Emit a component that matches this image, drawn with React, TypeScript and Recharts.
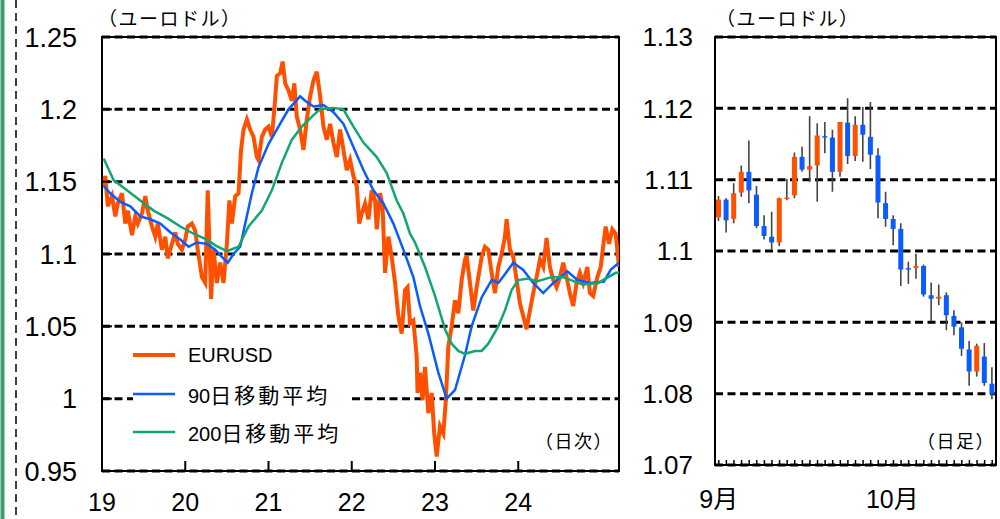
import {
  LineChart,
  Line,
  XAxis,
  YAxis,
  CartesianGrid,
  ReferenceArea,
  Legend,
  ComposedChart,
  Bar,
} from "recharts";

// ---- left panel: daily EURUSD with moving averages ----
// x = position on the year axis (19 = start of 2019), y = EUR/USD
const yearTicks = [19, 20, 21, 22, 23, 24];
const dailyTicks = [0.95, 1, 1.05, 1.1, 1.15, 1.2, 1.25];

const eurusd: [number, number][] = [
  [19.01, 1.147], [19.04, 1.154], [19.07, 1.133], [19.12, 1.14], [19.16, 1.126],
  [19.19, 1.135], [19.24, 1.142], [19.28, 1.121], [19.31, 1.13], [19.36, 1.113],
  [19.4, 1.126], [19.43, 1.121], [19.48, 1.128], [19.52, 1.14], [19.55, 1.13],
  [19.6, 1.119], [19.64, 1.112], [19.67, 1.121], [19.72, 1.103], [19.76, 1.112],
  [19.79, 1.097], [19.84, 1.107], [19.88, 1.115], [19.91, 1.107], [19.96, 1.103],
  [20.0, 1.11], [20.03, 1.119], [20.08, 1.121], [20.12, 1.116], [20.15, 1.103],
  [20.2, 1.084], [20.24, 1.08], [20.27, 1.144], [20.3, 1.09], [20.31, 1.069],
  [20.34, 1.103], [20.38, 1.08], [20.42, 1.094], [20.46, 1.08], [20.5, 1.107],
  [20.53, 1.137], [20.56, 1.121], [20.6, 1.14], [20.64, 1.142], [20.67, 1.172],
  [20.7, 1.186], [20.74, 1.193], [20.78, 1.186], [20.82, 1.181], [20.86, 1.167],
  [20.88, 1.165], [20.92, 1.181], [20.96, 1.186], [21.0, 1.188], [21.04, 1.181],
  [21.07, 1.2], [21.1, 1.223], [21.14, 1.225], [21.17, 1.233], [21.2, 1.218],
  [21.24, 1.213], [21.28, 1.206], [21.31, 1.218], [21.34, 1.195], [21.38, 1.186],
  [21.42, 1.172], [21.46, 1.193], [21.5, 1.209], [21.54, 1.22], [21.58, 1.226],
  [21.62, 1.209], [21.66, 1.188], [21.7, 1.179], [21.74, 1.19], [21.78, 1.177],
  [21.82, 1.167], [21.86, 1.186], [21.9, 1.172], [21.94, 1.158], [21.98, 1.165],
  [22.02, 1.154], [22.06, 1.147], [22.09, 1.121], [22.12, 1.128], [22.16, 1.135],
  [22.2, 1.124], [22.24, 1.144], [22.28, 1.137], [22.3, 1.117], [22.34, 1.142],
  [22.37, 1.133], [22.4, 1.087], [22.44, 1.112], [22.48, 1.098], [22.52, 1.08],
  [22.56, 1.057], [22.6, 1.045], [22.64, 1.075], [22.67, 1.077], [22.7, 1.052],
  [22.74, 1.054], [22.78, 1.029], [22.79, 1.004], [22.82, 1.018], [22.85, 0.999],
  [22.88, 1.022], [22.92, 0.99], [22.96, 1.004], [22.99, 0.976], [23.02, 0.96],
  [23.06, 0.981], [23.1, 0.976], [23.13, 0.999], [23.16, 1.036], [23.2, 1.05],
  [23.24, 1.068], [23.28, 1.059], [23.32, 1.082], [23.36, 1.096], [23.38, 1.099],
  [23.42, 1.08], [23.46, 1.061], [23.5, 1.077], [23.56, 1.098], [23.6, 1.105],
  [23.64, 1.103], [23.68, 1.087], [23.72, 1.073], [23.76, 1.091], [23.8, 1.1],
  [23.84, 1.112], [23.86, 1.124], [23.9, 1.103], [23.94, 1.098], [23.98, 1.082],
  [24.02, 1.066], [24.06, 1.057], [24.1, 1.048], [24.14, 1.061], [24.18, 1.073],
  [24.22, 1.084], [24.26, 1.096], [24.3, 1.091], [24.34, 1.111], [24.38, 1.091],
  [24.42, 1.082], [24.46, 1.077], [24.5, 1.084], [24.54, 1.094], [24.58, 1.084],
  [24.62, 1.073], [24.66, 1.064], [24.7, 1.08], [24.74, 1.087], [24.78, 1.08],
  [24.83, 1.091], [24.86, 1.073], [24.9, 1.071], [24.95, 1.084], [24.99, 1.091],
  [25.03, 1.11], [25.05, 1.119], [25.09, 1.107], [25.13, 1.117], [25.17, 1.114],
  [25.21, 1.091],
];

const ma90: [number, number][] = [
  [19.02, 1.147], [19.1, 1.142], [19.22, 1.136], [19.34, 1.133], [19.46, 1.126],
  [19.58, 1.124], [19.7, 1.121], [19.82, 1.115], [19.94, 1.11], [20.04, 1.105],
  [20.14, 1.108], [20.26, 1.107], [20.36, 1.103], [20.44, 1.098], [20.51, 1.094],
  [20.58, 1.1], [20.66, 1.105], [20.72, 1.121], [20.8, 1.142], [20.88, 1.16],
  [21.0, 1.176], [21.12, 1.188], [21.24, 1.2], [21.38, 1.209], [21.44, 1.206],
  [21.54, 1.202], [21.66, 1.203], [21.78, 1.198], [21.9, 1.19], [22.02, 1.174],
  [22.14, 1.158], [22.26, 1.144], [22.38, 1.135], [22.5, 1.121], [22.62, 1.103],
  [22.74, 1.084], [22.82, 1.064], [22.92, 1.045], [23.04, 1.018], [23.14, 1.0],
  [23.24, 1.006], [23.36, 1.03], [23.44, 1.05], [23.56, 1.07], [23.68, 1.082],
  [23.76, 1.08], [23.84, 1.086], [23.94, 1.094], [24.06, 1.089], [24.18, 1.08],
  [24.3, 1.073], [24.42, 1.08], [24.59, 1.088], [24.71, 1.082], [24.87, 1.08],
  [25.03, 1.081], [25.11, 1.089], [25.21, 1.094],
];

const ma200: [number, number][] = [
  [19.02, 1.166], [19.14, 1.151], [19.3, 1.144], [19.46, 1.137], [19.62, 1.13],
  [19.78, 1.125], [19.94, 1.119], [20.1, 1.114], [20.26, 1.11], [20.36, 1.106],
  [20.5, 1.102], [20.64, 1.105], [20.76, 1.119], [20.92, 1.13], [21.04, 1.144],
  [21.16, 1.163], [21.28, 1.179], [21.4, 1.188], [21.54, 1.196], [21.62, 1.2],
  [21.78, 1.201], [21.9, 1.2], [22.02, 1.188], [22.14, 1.177], [22.3, 1.167],
  [22.42, 1.156], [22.54, 1.137], [22.62, 1.128], [22.7, 1.114], [22.76, 1.108],
  [22.88, 1.091], [23.0, 1.071], [23.12, 1.048], [23.2, 1.038], [23.28, 1.033],
  [23.36, 1.031], [23.48, 1.033], [23.56, 1.033], [23.64, 1.038], [23.76, 1.05],
  [23.84, 1.061], [23.92, 1.075], [24.0, 1.082], [24.12, 1.083], [24.22, 1.081],
  [24.4, 1.084], [24.54, 1.084], [24.77, 1.079], [24.96, 1.08], [25.17, 1.087],
  [25.21, 1.087],
];

// ---- right panel: daily candles, Sep 2 – Oct 22 ----
const candleDates = [
  "9/2", "9/3", "9/4", "9/5", "9/6", "9/9", "9/10", "9/11", "9/12", "9/13",
  "9/16", "9/17", "9/18", "9/19", "9/20", "9/23", "9/24", "9/25", "9/26", "9/27",
  "9/30", "10/1", "10/2", "10/3", "10/4", "10/7", "10/8", "10/9", "10/10", "10/11",
  "10/14", "10/15", "10/16", "10/17", "10/18", "10/21", "10/22",
];
const candleOpen = [
  1.1047, 1.1072, 1.1045, 1.1082, 1.1111, 1.1079, 1.1035, 1.102, 1.1012, 1.1073,
  1.1078, 1.1132, 1.1114, 1.112, 1.1161, 1.1159, 1.1111, 1.118, 1.1133, 1.1177,
  1.116, 1.1134, 1.1067, 1.1045, 1.1031, 1.0976, 1.0976, 1.0979, 1.0938, 1.0933,
  1.0938, 1.0909, 1.0893, 1.0862, 1.0831, 1.0852, 1.0814,
];
const candleClose = [
  1.1072, 1.1043, 1.1081, 1.1111, 1.1085, 1.1035, 1.1021, 1.1012, 1.1074, 1.1075,
  1.1132, 1.1114, 1.1119, 1.1162, 1.116, 1.1111, 1.1181, 1.1133, 1.1177, 1.1163,
  1.1135, 1.1068, 1.1045, 1.1031, 1.0974, 1.0975, 1.0979, 1.0939, 1.0933, 1.0936,
  1.091, 1.0894, 1.0863, 1.0831, 1.0867, 1.0815, 1.0799,
];
const candleHigh = [
  1.1077, 1.1074, 1.1095, 1.112, 1.1155, 1.1091, 1.105, 1.1055, 1.1075, 1.1101,
  1.1138, 1.1146, 1.1189, 1.1179, 1.1181, 1.117, 1.1181, 1.1214, 1.1189, 1.1202,
  1.1209, 1.1144, 1.1083, 1.105, 1.1039, 1.0985, 1.0996, 1.0981, 1.0956, 1.0953,
  1.0942, 1.0917, 1.09, 1.0874, 1.087, 1.0871, 1.0837,
];
const candleLow = [
  1.1042, 1.1026, 1.1039, 1.1076, 1.1067, 1.1032, 1.1016, 1.1002, 1.1007, 1.1071,
  1.1074, 1.1111, 1.1097, 1.1069, 1.1137, 1.1083, 1.1104, 1.1122, 1.1126, 1.1125,
  1.1115, 1.1046, 1.1034, 1.1008, 1.0951, 1.0954, 1.0961, 1.0936, 1.0901, 1.0924,
  1.0889, 1.0882, 1.0853, 1.0811, 1.0824, 1.0811, 1.0792,
];
const candleTicks = [1.07, 1.08, 1.09, 1.1, 1.11, 1.12, 1.13];
const monthLabels: Record<string, string> = { "9/2": "9月", "10/1": "10月" };

const ORANGE = "#ff5000";
const BLUE = "#0a5cff";
const GREEN = "#12a673";
const FONT = '"Liberation Sans", Arial, "Noto Sans CJK JP", sans-serif';
const JP = '"Noto Sans CJK JP", sans-serif';
const GRID = { stroke: "#000", strokeWidth: 3, strokeDasharray: "8 4.5" };

const dailySeries = [
  { name: "EURUSD", points: eurusd, color: ORANGE, width: 4 },
  { name: "90日移動平均", points: ma90, color: BLUE, width: 2.5 },
  { name: "200日移動平均", points: ma200, color: GREEN, width: 2.5 },
];

const candles = candleDates.map((date, i) => ({
  date,
  open: candleOpen[i],
  close: candleClose[i],
  high: candleHigh[i],
  low: candleLow[i],
}));

function LeftYTick(props: any) {
  const { x, y, payload } = props;
  const axisX = x + 25;
  return (
    <g>
      <line x1={axisX} x2={axisX + 10} y1={y} y2={y} stroke="#000" strokeWidth={2} />
      <text x={x} y={y} dy="0.36em" textAnchor="end" fontFamily={FONT} fontSize={27} fill="#000">
        {String(payload.value)}
      </text>
    </g>
  );
}

function YearTick(props: any) {
  const { x, y, payload } = props;
  return (
    <g>
      <line x1={x} x2={x} y1={y} y2={y - 10} stroke="#000" strokeWidth={2} />
      <text x={x} y={y + 40} textAnchor="middle" fontFamily={FONT} fontSize={25} fill="#000">
        {String(payload.value)}
      </text>
    </g>
  );
}

function RightYTick(props: any) {
  const { x, y, payload } = props;
  return (
    <text x={x} y={y} dy="0.36em" textAnchor="end" fontFamily={FONT} fontSize={26} fill="#000">
      {String(payload.value)}
    </text>
  );
}

function DayTick(props: any) {
  const { x, y, payload, index } = props;
  const label = monthLabels[payload.value];
  return (
    <g>
      <line x1={x} x2={x} y1={y} y2={y - 5} stroke="#000" strokeWidth={1.5} />
      {label && (
        <text
          x={index === 0 ? x : x + 14}
          y={y + 43}
          textAnchor="middle"
          fontFamily={FONT}
          fontSize={25}
          fill="#000"
        >
          {label}
        </text>
      )}
    </g>
  );
}

function Candle(props: any) {
  const { x, y, width, height, payload } = props;
  const top = Math.min(y, y + height);
  const h = Math.abs(height);
  const { open, close, high, low } = payload;
  const toPx = (v: number) => top + ((high - v) / (high - low)) * h;
  const cx = x + width / 2;
  const bodyTop = toPx(Math.max(open, close));
  const bodyBot = toPx(Math.min(open, close));
  return (
    <g>
      <line x1={cx} x2={cx} y1={top} y2={top + h} stroke="#444" strokeWidth={1.6} />
      <rect
        x={x}
        y={bodyTop}
        width={width}
        height={Math.max(bodyBot - bodyTop, 1.5)}
        fill={close >= open ? ORANGE : BLUE}
      />
    </g>
  );
}

// latin/digits at 20px, kanji a little larger and spaced, like the original
function LegendName({ text }: { text: string }) {
  return (
    <span>
      {text.split(/([^\x00-\x7F]+)/).map((part, i) =>
        /[^\x00-\x7F]/.test(part) ? (
          <span key={i} style={{ fontFamily: JP, fontSize: 21, letterSpacing: 3 }}>
            {part}
          </span>
        ) : (
          <span key={i}>{part}</span>
        )
      )}
    </span>
  );
}

function DailyLegend() {
  return (
    <div
      style={{
        fontFamily: FONT,
        fontSize: 20,
        color: "#000",
        background: "#fff",
        padding: "2px 10px 2px 0",
      }}
    >
      {dailySeries.map((s) => (
        <div key={s.name} style={{ display: "flex", alignItems: "center", height: 38.5 }}>
          <svg width={42} height={10} style={{ marginRight: 13 }}>
            <line x1={0} x2={42} y1={5} y2={5} stroke={s.color} strokeWidth={s.width} />
          </svg>
          <LegendName text={s.name} />
        </div>
      ))}
    </div>
  );
}

const note = (text: string, left: number, top: number, size: number, spacing: number) => (
  <div
    style={{
      position: "absolute",
      left,
      top,
      fontFamily: JP,
      fontSize: size,
      letterSpacing: spacing,
      lineHeight: 1,
      whiteSpace: "nowrap",
      color: "#000",
    }}
  >
    {text}
  </div>
);

export default function App() {
  return (
    <div
      style={{
        position: "absolute",
        left: 0,
        top: 0,
        width: 1000,
        height: 519,
        background: "#fff",
        overflow: "hidden",
      }}
    >
      <svg width={30} height={519} style={{ position: "absolute", left: 0, top: 0 }}>
        <line x1={2.5} x2={2.5} y1={0} y2={519} stroke="#3c9b6e" strokeWidth={4} />
        <line x1={16} x2={16} y1={0} y2={519} stroke="#000" strokeWidth={1.5} strokeDasharray="8 5" />
      </svg>

      <div style={{ position: "absolute", left: 0, top: 0 }}>
        <LineChart width={620} height={519} margin={{ top: 37, right: 1, bottom: 0, left: 0 }}>
          <CartesianGrid vertical={false} horizontal={GRID} {...GRID} />
          <XAxis
            type="number"
            dataKey="t"
            domain={[19, 25.21]}
            ticks={yearTicks}
            allowDataOverflow
            height={48}
            tickSize={0}
            tickLine={false}
            tickMargin={0}
            axisLine={{ stroke: "#000", strokeWidth: 2 }}
            tick={<YearTick />}
            interval={0}
          />
          <YAxis
            type="number"
            domain={[0.95, 1.25]}
            ticks={dailyTicks}
            allowDataOverflow
            width={102}
            tickSize={0}
            tickLine={false}
            tickMargin={25}
            axisLine={{ stroke: "#000", strokeWidth: 2 }}
            tick={<LeftYTick />}
            interval={0}
          />
          {dailySeries.map((s) => (
            <Line
              key={s.name}
              name={s.name}
              data={s.points.map(([t, v]) => ({ t, v }))}
              dataKey="v"
              type="linear"
              stroke={s.color}
              strokeWidth={s.width}
              dot={false}
              isAnimationActive={false}
            />
          ))}
          <ReferenceArea y1={0.95} y2={1.25} fill="none" stroke="#000" strokeWidth={2} ifOverflow="visible" />
          <Legend
            layout="vertical"
            align="center"
            verticalAlign="middle"
            wrapperStyle={{ left: 133, top: 334, width: "auto" }}
            content={() => <DailyLegend />}
          />
        </LineChart>
      </div>

      <div style={{ position: "absolute", left: 620, top: 0 }}>
        <ComposedChart
          width={380}
          height={519}
          data={candles}
          margin={{ top: 37, right: 4, bottom: 0, left: 0 }}
        >
          <CartesianGrid vertical={false} horizontal={GRID} {...GRID} />
          <XAxis
            dataKey="date"
            type="category"
            height={54}
            interval={0}
            tickSize={0}
            tickLine={false}
            tickMargin={0}
            axisLine={{ stroke: "#000", strokeWidth: 2 }}
            tick={<DayTick />}
          />
          <YAxis
            type="number"
            domain={[1.07, 1.13]}
            ticks={candleTicks}
            allowDataOverflow
            width={95}
            tickSize={0}
            tickLine={false}
            tickMargin={22}
            axisLine={{ stroke: "#000", strokeWidth: 2 }}
            tick={<RightYTick />}
            interval={0}
          />
          <Bar
            dataKey={(d: any) => [d.low, d.high]}
            barSize={5}
            shape={<Candle />}
            isAnimationActive={false}
          />
          <ReferenceArea y1={1.07} y2={1.13} fill="none" stroke="#000" strokeWidth={2} ifOverflow="visible" />
        </ComposedChart>
      </div>

      {note("（ユーロドル）", 98, 8, 19, 1.5)}
      {note("（ユーロドル）", 716, 8, 19, 1.5)}
      {note("（日次）", 535, 431, 18, 1.5)}
      {note("（日足）", 917, 431, 18, 1.5)}
    </div>
  );
}
